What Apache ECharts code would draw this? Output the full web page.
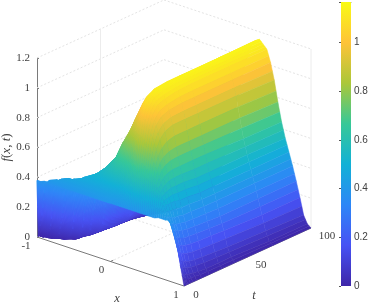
<!DOCTYPE html>
<html><head><meta charset="utf-8">
<style>html,body{margin:0;padding:0;background:#fff}#c{width:368px;height:303px}</style>
<script src="https://cdn.jsdelivr.net/npm/echarts@6/dist/echarts.min.js"></script>
</head><body><div id="c"></div>
<script>
const xValues = [-1,-.95,-.9,-.85,-.8,-.75,-.7,-.65,-.6,-.55,-.5,-.45,-.4,-.35,-.3,-.25,-.2,-.15,-.1,-.05,0,.05,.1,.15,.2,.25,.3,.35,.4,.45,.5,.55,.6,.65,.7,.75,.8,.85,.9,.95,1];
const tValues = [0,1,2,3,5,7,10,14,20,30,40,70,100];
const fT0 = [.38,.38,.39,.39,.39,.39,.39,.39,.39,.39,.39,.39,.39,.39,.39,.39,.39,.39,.39,.39,.39,.39,.39,.39,.39,.39,.39,.39,.39,.39,.39,.39,.39,.40,.40,.40,.41,.36,.27,.13,0];
const fT1 = [0,.15,.36,.40,.41,.42,.42,.42,.42,.42,.42,.42,.42,.42,.42,.42,.42,.42,.42,.42,.42,.42,.42,.42,.43,.45,.50,.50,.49,.48,.46,.46,.45,.45,.44,.41,.38,.31,.22,.10,0];
const fT2 = [0,0,.015,.09,.30,.41,.43,.44,.45,.45,.45,.45,.45,.45,.45,.45,.45,.45,.45,.44,.44,.44,.45,.46,.48,.54,.60,.60,.58,.56,.54,.53,.52,.50,.47,.42,.35,.27,.18,.08,0];
const fT3 = [0,0,0,.005,.015,.05,.20,.37,.43,.45,.46,.47,.47,.47,.47,.47,.47,.48,.48,.49,.50,.51,.52,.55,.58,.65,.72,.72,.70,.66,.62,.60,.57,.53,.48,.41,.33,.25,.15,.06,0];
const fT5 = [0,0,0,0,.005,.01,.02,.035,.10,.30,.42,.47,.485,.50,.51,.52,.53,.54,.55,.56,.58,.60,.62,.66,.70,.80,.88,.86,.82,.78,.73,.67,.60,.54,.48,.40,.32,.23,.13,.05,0];
const fT7 = [0,0,0,0,0,0,.01,.02,.035,.05,.12,.32,.46,.495,.515,.53,.55,.57,.59,.62,.66,.70,.74,.79,.84,.93,1.00,.97,.93,.88,.80,.72,.63,.55,.48,.39,.31,.22,.12,.045,0];
const fT10 = [0,0,0,0,0,0,0,.005,.02,.04,.06,.10,.24,.45,.52,.545,.575,.61,.64,.70,.76,.81,.86,.92,.97,1.03,1.08,1.05,1.01,.95,.86,.75,.65,.56,.48,.39,.30,.21,.11,.04,0];
const fT14 = [0,0,0,0,0,0,0,.005,.02,.03,.045,.065,.085,.14,.30,.43,.52,.60,.66,.73,.79,.85,.92,.98,1.04,1.09,1.12,1.10,1.06,.99,.90,.77,.66,.56,.47,.38,.295,.205,.105,.035,0];
const fT20 = [0,0,0,0,0,0,0,0,.01,.025,.04,.06,.075,.10,.20,.35,.48,.57,.66,.73,.80,.88,.96,1.02,1.07,1.12,1.135,1.12,1.08,1.01,.92,.78,.66,.56,.47,.38,.29,.20,.10,.03,0];
const fT30 = [0,0,0,0,0,0,0,0,0,.02,.035,.05,.07,.09,.115,.15,.24,.34,.50,.64,.77,.86,.96,1.04,1.09,1.13,1.14,1.13,1.095,1.02,.92,.78,.66,.55,.46,.375,.285,.195,.095,.03,0];
const fT40 = [0,0,0,0,0,0,0,0,0,.01,.03,.05,.07,.09,.12,.20,.30,.40,.50,.61,.72,.84,.95,1.04,1.10,1.13,1.145,1.13,1.10,1.02,.92,.78,.66,.55,.46,.375,.28,.19,.09,.03,0];
const fT70 = [0,0,0,0,0,0,0,0,0,0,0,0,.001,.035,.09,.16,.25,.36,.47,.59,.71,.83,.94,1.04,1.10,1.13,1.15,1.13,1.10,1.02,.92,.78,.65,.55,.46,.375,.28,.18,.08,.02,0];
const fT100 = [0,0,0,0,0,0,0,0,0,0,0,0,.001,.03,.08,.15,.24,.35,.46,.58,.70,.82,.93,1.03,1.10,1.135,1.15,1.125,1.10,1.02,.91,.77,.645,.545,.46,.375,.28,.18,.07,.02,0];
const fRows = [fT0,fT1,fT2,fT3,fT5,fT7,fT10,fT14,fT20,fT30,fT40,fT70,fT100];

const zTicks = [0,0.2,0.4,0.6,0.8,1,1.2];
const xTicks = [-1,0,1];
const tTicks = [0,50,100];
const colorMax = 1.166;
const parula = ['#3e26a8','#4752f4','#2d87f7','#12b1d6','#37c897','#abc739','#fec338','#f9fb14'];

const PX_X = 147, PX_T = 127, DROP_X = 49, RISE_T = 58, PLOT_W = 274, PLOT_H = 179;
function view(x, t, z) {
  const s = (x + 1) / 2, u = t / 100;
  return [(PX_X * s + PX_T * u) / PLOT_W, z - (DROP_X * s - RISE_T * u) * 1.2 / PLOT_H];
}
function hex(c){return [1,3,5].map(k=>parseInt(c.substr(k,2),16));}
function colorAt(z){
  let p = Math.max(0, Math.min(1, z / colorMax)) * (parula.length - 1);
  let k = Math.min(parula.length - 2, Math.floor(p)), f = p - k;
  const a = hex(parula[k]), b = hex(parula[k+1]);
  return 'rgb(' + a.map((v,n)=>Math.round(v + (b[n]-v)*f)).join(',') + ')';
}
function stops(z0, z1){
  const out = [];
  for (let n = 0; n <= 6; n++) out.push({offset:n/6, color:colorAt(z0 + (z1-z0)*n/6)});
  return out;
}

const quads = [];
for (let j = tValues.length - 2; j >= 0; j--)
  for (let i = 0; i < xValues.length - 1; i++) quads.push([i, j]);

function renderQuad(params, api){
  const i = api.value(0), j = api.value(1);
  const left = xValues[i] < 0;
  const n = left ? 4 : 2;
  const children = [];
  for (let k = 0; k < n; k++) {
    const a = k / n, b = (k + 1) / n;
    const corner = (f, row) => {
      const x = xValues[i] + (xValues[i+1] - xValues[i]) * f;
      const z = fRows[row][i] + (fRows[row][i+1] - fRows[row][i]) * f;
      return {p: api.coord(view(x, tValues[row], z)), z};
    };
    const c = [corner(a,j), corner(b,j), corner(b,j+1), corner(a,j+1)];
    const P = c.map(q=>q.p);
    const A = [(P[0][0]+P[1][0])/2,(P[0][1]+P[1][1])/2];
    let B = [(P[2][0]+P[3][0])/2,(P[2][1]+P[3][1])/2];
    const z0 = (c[0].z+c[1].z)/2, z1 = (c[2].z+c[3].z)/2;
    if (Math.abs(A[0]-B[0]) + Math.abs(A[1]-B[1]) < 0.01) B = [A[0], A[1]+1];
    const g = new echarts.graphic.LinearGradient(A[0],A[1],B[0],B[1],stops(z0,z1),true);
    children.push({type:'polygon', shape:{points:P}, style:{fill:g, stroke:g, lineWidth:left ? 1 : 0.5}});
  }
  return {type:'group', children};
}

const boxLines = [];
zTicks.forEach(z=>{
  boxLines.push([-1,0,z,-1,100,z,'g']);
  boxLines.push([-1,100,z,1,100,z,'g']);
});
boxLines.push([-1,50,0,-1,50,1.2,'v']);
boxLines.push([1,100,0,1,100,1.2,'v']);
boxLines.push([-1,50,0,1,50,0,'g']);
boxLines.push([0,0,0,0,100,0,'g']);
boxLines.push([-1,0,0,1,0,0,'a']);
boxLines.push([0,0,0,0,2.2,0,'a']);
boxLines.push([1,50,0,0.97,50,0,'a']);
boxLines.push([1,0,0,1,100,0,'a']);
const lineStyles = {
  g:{stroke:'#e4e4e4',lineWidth:1,lineDash:[2,2]},
  v:{stroke:'#ececec',lineWidth:1},
  a:{stroke:'#7a7a7a',lineWidth:1}
};
function renderLine(params, api){
  const v = boxLines[params.dataIndex];
  const a = api.coord(view(v[0],v[1],v[2])), b = api.coord(view(v[3],v[4],v[5]));
  return {type:'line', shape:{x1:a[0],y1:a[1],x2:b[0],y2:b[1]}, style:lineStyles[v[6]]};
}

const obliqueLabels = [
  ['-1',xTicks[0],0,-11,9,0],['0',xTicks[1],0,-9,8.5,0],['1',xTicks[2],0,-8,9,0],
  ['0',1,tTicks[0],12,9,0],['50',1,tTicks[1],13.5,8,0],['100',1,tTicks[2],16,8,0],
  ['x',0,0,6.5,37.5,1],['t',1,50,6.5,39,1]
];
function renderLabel(params, api){
  const v = obliqueLabels[params.dataIndex];
  const a = api.coord(view(v[1],v[2],0));
  return {type:'text', style:{text:v[0], x:a[0]+v[3], y:a[1]+v[4], align:'center', verticalAlign:'middle',
    fill:'#404040', font:(v[5]?'italic 12.5px':'11px')+' "Liberation Serif"'}};
}
function renderColorbar(params, api){
  const a = api.coord([0,0]), b = api.coord([1,colorMax]);
  return {type:'rect', shape:{x:a[0],y:b[1],width:b[0]-a[0],height:a[1]-b[1]},
    style:{fill:new echarts.graphic.LinearGradient(0,1,0,0,parula.map((c,n)=>({offset:n/(parula.length-1),color:c})))}};
}

const chart = echarts.init(document.getElementById('c'), null, {renderer:'canvas'});
chart.setOption({
  animation:false,
  backgroundColor:'#fff',
  grid:[
    {left:37,top:58,width:PLOT_W,height:PLOT_H,outerBoundsMode:'none'},
    {left:341,top:2,width:10,height:284,outerBoundsMode:'none'}
  ],
  xAxis:[
    {gridIndex:0,type:'value',min:0,max:1,show:false},
    {gridIndex:1,type:'value',min:0,max:1,position:'top',axisLine:{show:true,onZero:false,lineStyle:{color:'#8a8a8a',width:1}},axisTick:{show:false},axisLabel:{show:false},splitLine:{show:false}}
  ],
  yAxis:[
    {gridIndex:0,type:'value',min:0,max:1.2,interval:0.2,
      axisLine:{show:true,onZero:false,lineStyle:{color:'#7a7a7a',width:1}},
      axisTick:{show:true,inside:true,length:2,lineStyle:{color:'#7a7a7a'}},
      axisLabel:{margin:7,color:'#404040',fontFamily:'Liberation Serif',fontSize:11,formatter:v=>String(+v.toFixed(1))},
      splitLine:{show:false},
      name:'{i|f}{r|(}{i|x}{r|, }{i|t}{r|)}',nameLocation:'middle',nameGap:24,nameRotate:90,nameMoveOverlap:false,
      nameTextStyle:{rich:{i:{fontFamily:'Liberation Serif',fontStyle:'italic',fontSize:13,color:'#404040'},r:{fontFamily:'Liberation Serif',fontSize:13,color:'#404040'}}}},
    {gridIndex:1,type:'value',position:'right',min:0,max:colorMax,interval:0.2,
      axisLine:{show:false},
      axisTick:{show:true,inside:true,length:2,lineStyle:{color:'#555'}},
      axisLabel:{margin:3,color:'#404040',fontFamily:'Liberation Sans',fontSize:10,
        formatter:v=>v>1.1?'':String(+v.toFixed(1))},
      splitLine:{show:false}}
  ],
  series:[
    {type:'custom',coordinateSystem:'cartesian2d',xAxisIndex:0,yAxisIndex:0,silent:true,clip:false,z:1,
      data:boxLines.map((v,n)=>[n]),renderItem:renderLine,encode:{x:-1,y:-1}},
    {type:'custom',coordinateSystem:'cartesian2d',xAxisIndex:0,yAxisIndex:0,silent:true,clip:false,z:2,progressive:0,
      data:quads,renderItem:renderQuad,encode:{x:-1,y:-1}},
    {type:'custom',coordinateSystem:'cartesian2d',xAxisIndex:0,yAxisIndex:0,silent:true,clip:false,z:3,
      data:obliqueLabels.map((v,n)=>[n]),renderItem:renderLabel,encode:{x:-1,y:-1}},
    {type:'custom',coordinateSystem:'cartesian2d',xAxisIndex:1,yAxisIndex:1,silent:true,clip:false,z:1,
      data:[[0]],renderItem:renderColorbar,encode:{x:-1,y:-1}}
  ]
});
</script></body></html>
